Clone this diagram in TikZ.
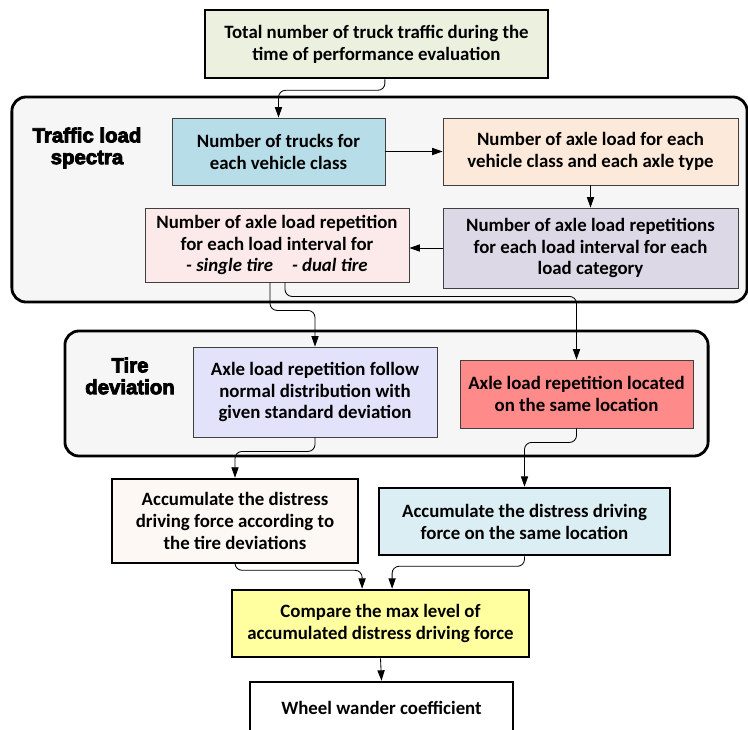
\documentclass[tikz,border=0pt]{standalone}
\usepackage{fontspec}
\setmainfont{Carlito}
\newfontfamily\headfont{Liberation Sans}[BoldFeatures={FakeBold=4}]
\usepackage{tikz}
\usepackage{xcolor}
\usetikzlibrary{arrows.meta, positioning}
\definecolor{Flow_Green}{HTML}{EBF1DE}
\definecolor{Flow_Cyan}{HTML}{B7DDE8}
\definecolor{Flow_Peach}{HTML}{FDE9D9}
\definecolor{Flow_Lilac}{HTML}{DCD8E5}
\definecolor{Flow_Pink}{HTML}{FCE9E9}
\definecolor{Flow_Lavender}{HTML}{E2E2FA}
\definecolor{Flow_Red}{HTML}{FF8A8A}
\definecolor{Flow_Cream}{HTML}{FDF8F4}
\definecolor{Flow_Ice}{HTML}{DBEEF3}
\definecolor{Flow_Yellow}{HTML}{FFFF9F}
\definecolor{Flow_Group}{HTML}{F6F6F6}

\begin{document}
\begin{tikzpicture}[x=0.025cm, y=-0.025cm,
    txt/.style={font=\fontsize{13.4}{15.6}\selectfont\bfseries, align=center, inner sep=2pt},
    thinbox/.style={txt, draw=black!75, line width=0.6pt},
    thickbox/.style={txt, draw=black, line width=1.8pt},
    group/.style={draw=black, line width=2pt, rounded corners=10pt, fill=Flow_Group},
    heading/.style={font=\headfont\fontsize{14.5}{15.5}\selectfont\bfseries, align=center},
    conn/.style={draw, line width=0.6pt, rounded corners=5pt, -{Triangle[length=2.6mm,width=1.8mm]}}]
    \useasboundingbox (0,0) rectangle (748,729);

    % Group frames
    \node[group, minimum width=18.375cm, minimum height=5.125cm] (loadgrp) at (379.5,199.5) {};
    \node[group, minimum width=16.075cm, minimum height=3.125cm] (tiregrp) at (386.5,393.5) {};
    \node[heading] (loadlbl) at (87,148) {Traffic load\\spectra};
    \node[heading] (tirelbl) at (130,376) {Tire\\deviation};

    % Top
    \node[thickbox, fill=Flow_Green, minimum width=8.575cm, minimum height=1.7cm] (total) at (376.5,44)
        {Total number of truck traffic during the\\time of performance evaluation};

    % Traffic load spectra
    \node[thinbox, fill=Flow_Cyan, minimum width=5.325cm, minimum height=1.675cm] (trucks) at (278.5,151.5)
        {Number of trucks for\\each vehicle class};
    \node[thinbox, fill=Flow_Peach, minimum width=7.375cm, minimum height=1.675cm] (axle) at (590.5,151.5)
        {Number of axle load for each\\vehicle class and each axle type};
    \node[thinbox, fill=Flow_Lilac, minimum width=7.375cm, minimum height=2cm] (reps) at (590.5,248)
        {Number of axle load repetitions\\for each load interval for each\\load category};
    \node[thinbox, fill=Flow_Pink, minimum width=6.6cm, minimum height=1.85cm] (single) at (277,245)
        {Number of axle load repetition\\for each load interval for\\\itshape - single tire\quad - dual tire};

    % Tire deviation
    \node[thinbox, fill=Flow_Lavender, minimum width=6.1cm, minimum height=2.25cm] (normal) at (315,392)
        {Axle load repetition follow\\normal distribution with\\given standard deviation};
    \node[thinbox, fill=Flow_Red, minimum width=5.825cm, minimum height=1.7cm] (located) at (576.5,394)
        {Axle load repetition located\\on the same location};

    % Accumulation
    \node[thickbox, fill=Flow_Cream, minimum width=6.15cm, minimum height=2.1cm] (accleft) at (235,521)
        {Accumulate the distress\\driving force according to\\the tire deviations};
    \node[thickbox, fill=Flow_Ice, minimum width=7.275cm, minimum height=1.675cm] (accright) at (524.5,521.5)
        {Accumulate the distress driving\\force on the same location};
    \node[thickbox, fill=Flow_Yellow, minimum width=7.425cm, minimum height=1.675cm] (compare) at (380.5,623.5)
        {Compare the max level of\\accumulated distress driving force};
    \node[thickbox, fill=white, minimum width=6.575cm, minimum height=1.3cm] (wheel) at (381.5,708)
        {Wheel wander coefficient};

    % Connectors
    \draw[conn] ([xshift=0.21cm]total.south) -- ++(0,11) -| (trucks.north);
    \draw[conn] (trucks.east) -- (trucks.east -| axle.west);
    \draw[conn] (axle.south) -- (reps.north);
    \draw[conn] (reps.west) -- (reps.west -| single.east);
    \draw[conn] ([xshift=-0.175cm]single.south) -- ++(0,28) -| (normal.north);
    \draw[conn] ([xshift=0.2cm]single.south) -- ++(0,14) -| (located.north);
    \draw[conn] (normal.south) -- ++(0,14) -| (accleft.north);
    \draw[conn] (located.south) -- ++(0,14) -| (accright.north);
    \draw[conn] (accleft.south) -- ++(0,6) -| ([xshift=-0.46cm]compare.north);
    \draw[conn] (accright.south) -- ++(0,10) -| ([xshift=0.29cm]compare.north);
    \draw[conn] (compare.south) -- (wheel.north);
\end{tikzpicture}
\end{document}
